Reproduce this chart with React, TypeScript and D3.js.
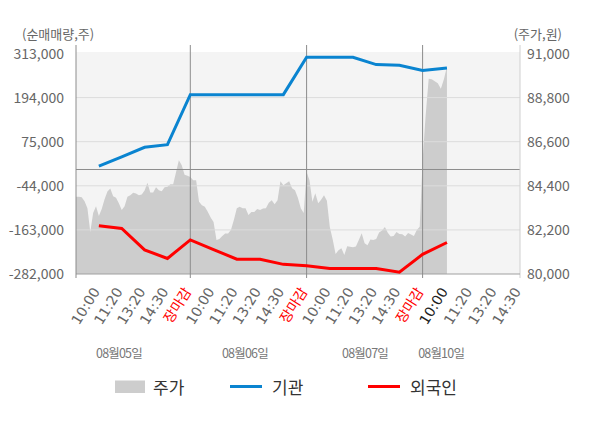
import { useRef, useEffect } from "react";
import * as d3 from "d3";

const width = 600;
const height = 428;

// x axis: 5 label slots per session, last session partially shown
const days = ["08월05일", "08월06일", "08월07일", "08월10일"];
const sessionTicks = ["10:00", "11:20", "13:20", "14:30", "장마감"];
const lastDayTicks = ["10:00", "11:20", "13:20", "14:30"];

const leftTicks = [313000, 194000, 75000, -44000, -163000, -282000];
const rightTicks = [91000, 88800, 86600, 84400, 82200, 80000];

// net buying (shares) at each label slot, slot 1 .. 16
const institution = [
  9000, 34000, 60000, 67000, 202000, 202000, 202000, 202000, 202000, 303000,
  303000, 303000, 283000, 281000, 267000, 274000,
];
const foreign = [
  -152000, -159000, -217000, -240000, -190000, -216000, -242000, -242000,
  -256000, -260000, -267000, -267000, -267000, -277000, -229000, -197000,
];

// price (won), sampled every 1/8 slot through each session
const price0805 = [
  83850, 83850, 83830, 83630, 83280, 82090, 83040, 83380, 82890, 83240, 83730,
  84110, 84260, 83880, 83810, 83530, 83190, 83380, 83860, 83930, 84050, 84010,
  83930, 83960, 84160, 84550, 84060, 84060, 84330, 84180, 84130, 84330, 84350,
  84480, 84480, 85080, 85670, 85430, 84950, 84900,
];
const price0806 = [
  84840, 84680, 84680, 83610, 83430, 83360, 83110, 82820, 82590, 81690, 81740,
  81890, 82020, 82020, 82210, 82710, 83280, 83360, 83280, 83280, 82940, 83090,
  83090, 83240, 83190, 83270, 83280, 83560, 83680, 83480, 83680, 84630, 84430,
  84530, 84630, 84280, 84180, 83810, 83280, 83040,
];
const price0807 = [
  85090, 84680, 83600, 84030, 83530, 83710, 83930, 83660, 82340, 81720, 81000,
  81190, 81280, 80950, 81390, 81360, 81340, 81370, 81690, 82030, 81540, 81440,
  81720, 81690, 81740, 82070, 82170, 82340, 82060, 81870, 81890, 82090, 81990,
  81980, 81870, 82040, 81970, 81890, 82190, 82360,
];
const price0810 = [85670, 87910, 89740, 89710, 89610, 89510, 89240, 89710, 90350];

const SAMPLE_STEP = 0.125;
const SLOTS_PER_DAY = 5;
const BLUE = "#0a84d0";
const RED = "#ff0000";
const AREA = "#cdcdcd";
const TEXT = "#666666";
const FONT = "'Noto Sans CJK KR', 'Noto Sans', sans-serif";
const TICK_FONT = "'DejaVu Sans', 'Noto Sans CJK KR', sans-serif";

export default function App() {
  const ref = useRef<SVGSVGElement | null>(null);

  useEffect(() => {
    const svg = d3
      .select(ref.current)
      .attr("width", width)
      .attr("height", height)
      .attr("viewBox", `0 0 ${width} ${height}`)
      .attr("font-family", FONT);

    svg.selectAll("*").remove();

    const left = 76;
    const right = 520;
    const top = 53.5;
    const bottom = 274;

    // sessions are not the same width on screen; last one has 4 slots
    const x = d3
      .scaleLinear()
      .domain([0, 5, 10, 15, 19])
      .range([left, 190.3, 306.6, 422.6, right]);
    const yVol = d3.scaleLinear().domain([-282000, 313000]).range([bottom, top]);
    const yPrice = d3.scaleLinear().domain([80000, 91000]).range([bottom, top]);

    // background
    svg
      .append("rect")
      .attr("x", left)
      .attr("y", top - 1.5)
      .attr("width", right - left)
      .attr("height", bottom - top + 1.5)
      .attr("fill", "#f4f4f4");

    // price area
    const priceSeries = [price0805, price0806, price0807, price0810].flatMap(
      (arr, d) =>
        arr.map((p, k) => ({ s: d * SLOTS_PER_DAY + k * SAMPLE_STEP, p }))
    );
    const area = d3
      .area<{ s: number; p: number }>()
      .x((d) => x(d.s))
      .y0(bottom)
      .y1((d) => yPrice(d.p));
    svg.append("path").datum(priceSeries).attr("fill", AREA).attr("d", area);

    // horizontal grid
    svg
      .append("g")
      .selectAll("line")
      .data(leftTicks.slice(1, -1))
      .join("line")
      .attr("x1", left)
      .attr("x2", right)
      .attr("y1", (d) => yVol(d))
      .attr("y2", (d) => yVol(d))
      .attr("stroke", "#dcdcdc")
      .attr("stroke-width", 1);

    // zero line
    svg
      .append("line")
      .attr("x1", left)
      .attr("x2", right)
      .attr("y1", yVol(0))
      .attr("y2", yVol(0))
      .attr("stroke", "#8c8c8c");

    // right frame
    svg
      .append("line")
      .attr("x1", right)
      .attr("x2", right)
      .attr("y1", 45)
      .attr("y2", bottom + 4)
      .attr("stroke", "#d0d0d0");

    // bottom axis
    svg
      .append("line")
      .attr("x1", left)
      .attr("x2", right)
      .attr("y1", bottom)
      .attr("y2", bottom)
      .attr("stroke", "#a0a0a0");

    // session separators
    svg
      .append("g")
      .selectAll("line")
      .data(days.map((_, i) => i * SLOTS_PER_DAY))
      .join("line")
      .attr("x1", (d) => x(d))
      .attr("x2", (d) => x(d))
      .attr("y1", 45)
      .attr("y2", bottom + 4)
      .attr("stroke", "#8c8c8c");

    // lines
    const line = d3
      .line<number>()
      .x((_, i) => x(i + 1))
      .y((d) => yVol(d));

    svg
      .append("path")
      .datum(institution)
      .attr("fill", "none")
      .attr("stroke", BLUE)
      .attr("stroke-width", 3)
      .attr("d", line);

    svg
      .append("path")
      .datum(foreign)
      .attr("fill", "none")
      .attr("stroke", RED)
      .attr("stroke-width", 3)
      .attr("d", line);

    // left axis labels
    svg
      .append("g")
      .selectAll("text")
      .data(leftTicks)
      .join("text")
      .attr("x", 64)
      .attr("y", (d) => yVol(d))
      .attr("dy", "0.36em")
      .attr("text-anchor", "end")
      .attr("font-size", 14)
      .attr("fill", TEXT)
      .text((d) => d3.format(",")(d).replace("−", "-"));

    // right axis labels
    svg
      .append("g")
      .selectAll("text")
      .data(rightTicks)
      .join("text")
      .attr("x", 527)
      .attr("y", (d) => yPrice(d))
      .attr("dy", "0.36em")
      .attr("font-size", 14)
      .attr("fill", TEXT)
      .text((d) => d3.format(",")(d));

    svg
      .append("text")
      .attr("x", 22)
      .attr("y", 38.5)
      .attr("font-size", 13)
      .attr("fill", TEXT)
      .text("(순매매량,주)");

    svg
      .append("text")
      .attr("x", 562)
      .attr("y", 38.5)
      .attr("text-anchor", "end")
      .attr("font-size", 13)
      .attr("fill", TEXT)
      .text("(주가,원)");

    // time tick labels
    const tickData = days.flatMap((_, d) =>
      (d === days.length - 1 ? lastDayTicks : sessionTicks).map((t, k) => ({
        t,
        s: d * SLOTS_PER_DAY + k + 1,
        color:
          t === "장마감" ? RED : d === days.length - 1 && k === 0 ? "#222" : TEXT,
      }))
    );
    svg
      .append("g")
      .selectAll("text")
      .data(tickData)
      .join("text")
      .attr("transform", (d) => `translate(${x(d.s) + 1.5},${291.5}) rotate(-58)`)
      .attr("text-anchor", "end")
      .attr("font-family", TICK_FONT)
      .attr("font-size", 14)
      .attr("fill", (d) => d.color)
      .text((d) => d.t);

    // date labels
    const dateSlots = [1.88, 7.35, 12.52, 15.76];
    svg
      .append("g")
      .selectAll("text")
      .data(days)
      .join("text")
      .attr("x", (_, i) => x(dateSlots[i]))
      .attr("y", 357.5)
      .attr("text-anchor", "middle")
      .attr("font-size", 12.5)
      .attr("letter-spacing", -0.8)
      .attr("fill", "#777")
      .text((d) => d);

    // legend
    const legend = svg.append("g").attr("font-size", 17).attr("fill", "#333");
    legend
      .append("rect")
      .attr("x", 115)
      .attr("y", 380.5)
      .attr("width", 30)
      .attr("height", 12.5)
      .attr("fill", AREA);
    legend.append("text").attr("x", 153).attr("y", 393.5).text("주가");
    legend
      .append("line")
      .attr("x1", 230)
      .attr("x2", 262)
      .attr("y1", 386.5)
      .attr("y2", 386.5)
      .attr("stroke", BLUE)
      .attr("stroke-width", 3);
    legend.append("text").attr("x", 272).attr("y", 393.5).text("기관");
    legend
      .append("line")
      .attr("x1", 368)
      .attr("x2", 400)
      .attr("y1", 386.5)
      .attr("y2", 386.5)
      .attr("stroke", RED)
      .attr("stroke-width", 3);
    legend.append("text").attr("x", 410).attr("y", 393.5).text("외국인");
  }, []);

  return (
    <svg ref={ref} style={{ position: "absolute", left: 0, top: 0 }} />
  );
}
